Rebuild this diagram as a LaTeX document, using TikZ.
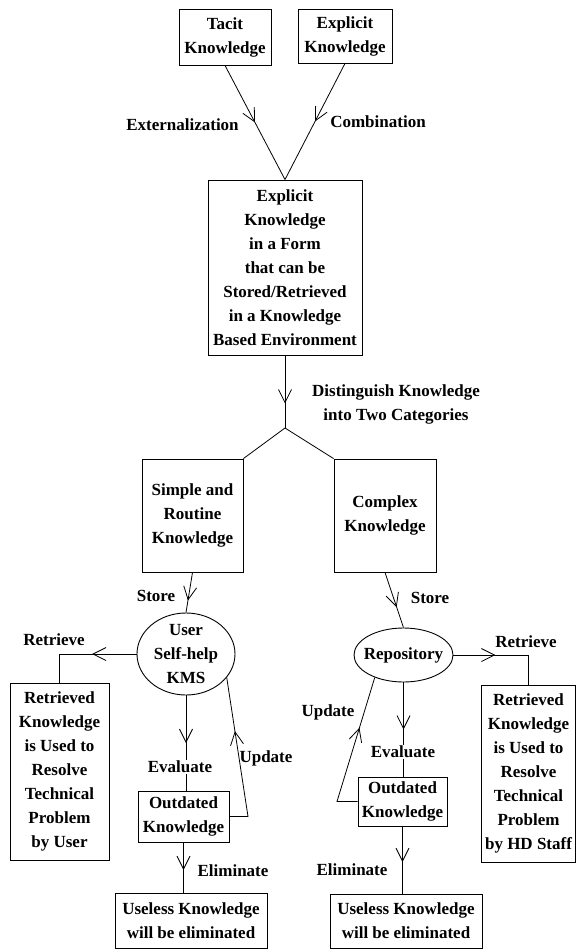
\documentclass[tikz,border=0pt]{standalone}
\usepackage{fontspec}
\setmainfont{Liberation Serif}
\usetikzlibrary{arrows.meta, shapes.geometric, decorations.markings}

\tikzset{
  txt/.style={font=\fontsize{17}{24}\selectfont\bfseries},
  box/.style={txt, draw, line width=0.9pt, align=center, inner sep=1pt},
  oval/.style={txt, draw, ellipse, line width=0.9pt, align=center, inner sep=0pt},
  lbl/.style={txt, align=center, inner sep=1pt},
  conn/.style={line width=0.8pt},
  midarrow/.style={postaction={decorate}, decoration={markings,
      mark=at position #1 with {\arrow{Straight Barb[length=13pt,width=13pt]}}}}
}

\begin{document}
\begin{tikzpicture}[x=1pt, y=-1pt]
        \useasboundingbox (0,0) rectangle (576,950);

        % sources
        \node[box, minimum width=92pt, minimum height=56pt] (tacit) at (225,37) {Tacit\\Knowledge};
        \node[box, minimum width=94pt, minimum height=54pt] (expl) at (345,36) {Explicit\\Knowledge};
        \node[box, minimum width=154pt, minimum height=175pt] (form) at (285,267.5)
            {Explicit\\Knowledge\\in a Form\\that can be\\Stored/Retrieved\\in a Knowledge\\Based Environment};
        \coordinate (split) at (285,428);

        % two categories
        \node[box, minimum width=101pt, minimum height=113pt] (simple) at (192.5,515.5) {Simple and\\Routine\\Knowledge};
        \node[box, minimum width=102pt, minimum height=113pt] (complex) at (385,515.5) {Complex\\Knowledge};
        \node[oval, inner ysep=-5pt, minimum width=98pt, minimum height=82pt] (kms) at (186,654) {User\\Self-help\\KMS};
        \node[oval, inner xsep=-7pt, minimum width=99pt, minimum height=54pt] (repo) at (403.5,655) {Repository};

        \node[box, minimum width=99pt, minimum height=177pt] (retl) at (59.5,771.5)
            {Retrieved\\Knowledge\\is Used to\\Resolve\\Technical\\Problem\\by User};
        \node[box, minimum width=94pt, minimum height=177pt] (retr) at (528.5,773.5)
            {Retrieved\\Knowledge\\is Used to\\Resolve\\Technical\\Problem\\by HD Staff};
        \node[box, minimum width=91pt, minimum height=51pt] (outl) at (183.5,816.5) {Outdated\\Knowledge};
        \node[box, minimum width=89pt, minimum height=49pt] (outr) at (402.5,801.5) {Outdated\\Knowledge};
        \node[box, minimum width=152pt, minimum height=55pt] (uselessl) at (191,920.5) {Useless Knowledge\\will be eliminated};
        \node[box, minimum width=152pt, minimum height=54pt] (uselessr) at (406,921) {Useless Knowledge\\will be eliminated};

        \coordinate (updlc) at (248,816.5);
        \coordinate (updrc) at (337,801.5);

        % connectors
        \draw[conn, midarrow=0.5] (tacit.south) -- (form.north);
        \draw[conn, midarrow=0.5] (expl.south) -- (form.north);
        \draw[conn, midarrow=0.66] (form.south) -- (split);
        \draw[conn] (split) -- (simple.north east);
        \draw[conn] (split) -- (complex.north west);
        \draw[conn, midarrow=0.7] (simple.south) -- (kms.north);
        \draw[conn, midarrow=0.63] (complex.south) -- (repo.north);
        \draw[conn, midarrow=0.42] (kms.west) -| (retl.north);
        \draw[conn, midarrow=0.4] (repo.east) -| (retr.north);
        \draw[conn, midarrow=0.5] (kms.south) -- (kms.south |- outl.north);
        \draw[conn, midarrow=0.5] (repo.south) -- (repo.south |- outr.north);
        \draw[conn, midarrow=0.66] (outl.east) -- (updlc) -- (kms.-30);
        \draw[conn, midarrow=0.65] (outr.west) -- (updrc) -- (repo.-142);
        \draw[conn, midarrow=0.55] (outl.south) -- (outl.south |- uselessl.north);
        \draw[conn, midarrow=0.53] (outr.south) -- (outr.south |- uselessr.north);

        % labels
        \node[lbl] (extz) at (182.5,125) {Externalization};
        \node[lbl] (comb) at (378,122) {Combination};
        \node[lbl] (dist) at (396,404) {Distinguish Knowledge\\into Two Categories};
        \node[lbl] (storel) at (156,596) {Store};
        \node[lbl] (storer) at (430,598) {Store};
        \node[lbl] (retrl) at (54,640) {Retrieve};
        \node[lbl] (retrr) at (526,642) {Retrieve};
        \node[lbl, fill=white] (evall) at (180,767) {Evaluate};
        \node[lbl] (updl) at (266,758) {Update};
        \node[lbl] (elml) at (233,871) {Eliminate};
        \node[lbl] (updr) at (328,712) {Update};
        \node[lbl, fill=white] (evalr) at (403,752) {Evaluate};
        \node[lbl] (elmr) at (352,870) {Eliminate};
\end{tikzpicture}
\end{document}
